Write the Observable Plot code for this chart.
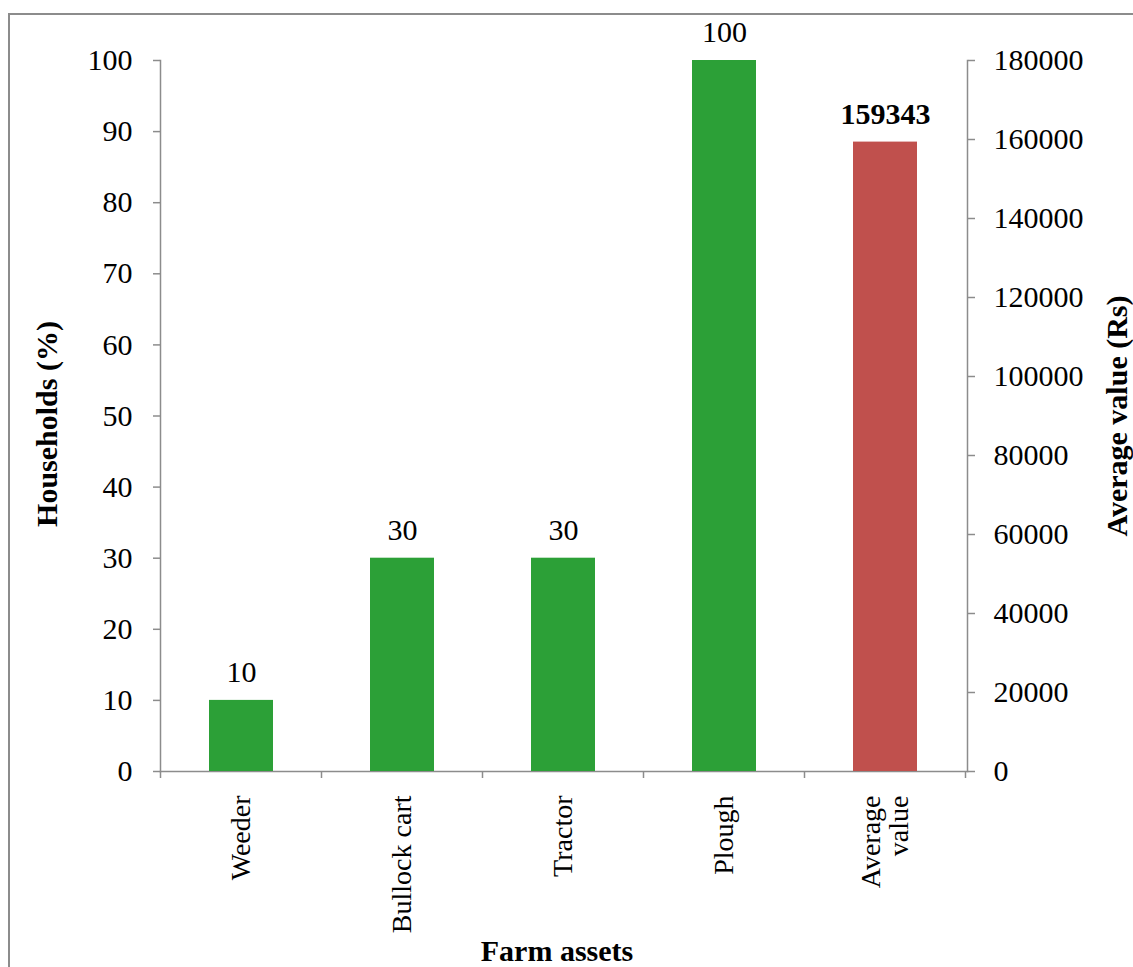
<!DOCTYPE html>
<html><head><meta charset="utf-8">
<script src="https://cdn.jsdelivr.net/npm/d3@7"></script>
<script src="https://cdn.jsdelivr.net/npm/@observablehq/plot@0.6"></script>
<style>
html,body{margin:0;padding:0;background:#fff;overflow:hidden}
#wrap{position:relative;width:1133px;height:967px;overflow:hidden}
#wrap svg{position:absolute;left:0;top:0}
#border{position:absolute;left:8px;top:13px;width:1200px;height:1000px;border-left:2px solid #8c8c8c;border-top:2px solid #8c8c8c;pointer-events:none}
</style></head><body>
<div id="wrap"></div>
<script>
const categories = ["Weeder", "Bullock cart", "Tractor", "Plough", "Average value"];
const tickLabels = ["Weeder", "Bullock cart", "Tractor", "Plough", "Average\nvalue"];
const householdCats = ["Weeder", "Bullock cart", "Tractor", "Plough"];
const households = [10, 30, 30, 100];
const averageValue = 159343;
const leftTicks = [0, 10, 20, 30, 40, 50, 60, 70, 80, 90, 100];
const rightTicks = [0, 20000, 40000, 60000, 80000, 100000, 120000, 140000, 160000, 180000];
const rightMax = 180000;

const green = "#2ca037";
const red = "#c0504d";
const axisColor = "#8c8c8c";
const serif = "'Liberation Serif', 'Times New Roman', serif";

const toLeft = v => v / rightMax * 100;
const greenData = householdCats.map((c, i) => ({cat: c, v: households[i]}));
const redData = [{cat: categories[4], v: toLeft(averageValue), label: averageValue}];
const labelOf = Object.fromEntries(categories.map((c, i) => [c, tickLabels[i]]));

const plot = Plot.plot({
  width: 1133,
  height: 967,
  marginLeft: 160,
  marginRight: 166,
  marginTop: 60,
  marginBottom: 196,
  style: {fontFamily: serif, fontSize: "30px", background: "transparent", color: "#000"},
  x: {type: "band", domain: categories, paddingInner: 0.6, paddingOuter: 0.3, axis: null},
  y: {domain: [0, 100], axis: null},
  marks: [
    Plot.frame({anchor: "left", stroke: axisColor, strokeWidth: 1.5}),
    Plot.frame({anchor: "right", stroke: axisColor, strokeWidth: 1.5}),
    Plot.frame({anchor: "bottom", stroke: axisColor, strokeWidth: 1.5}),
    Plot.axisY(leftTicks, {anchor: "left", tickSize: 7, tickPadding: 21, stroke: axisColor, strokeWidth: 1.5, fontSize: 30, fill: "#000", label: null}),
    Plot.axisY(rightTicks.map(toLeft), {anchor: "right", tickSize: 7, tickPadding: 19, stroke: axisColor, strokeWidth: 1.5, fontSize: 30, fill: "#000", label: null,
      tickFormat: d => String(Math.round(d * rightMax / 100))}),
    Plot.axisX({anchor: "bottom", tickSize: 0, tickPadding: 24, tickRotate: -90, fontSize: 28, fill: "#000", label: null,
      tickFormat: d => labelOf[d]}),
    Plot.barY(greenData, {x: "cat", y: "v", fill: green}),
    Plot.barY(redData, {x: "cat", y: "v", fill: red}),
    Plot.text(greenData, {x: "cat", y: "v", text: d => String(d.v), dy: -28, lineAnchor: "middle", fontSize: 30, fill: "#000"}),
    Plot.text(redData, {x: "cat", y: "v", text: d => String(d.label), dy: -28, lineAnchor: "middle", fontSize: 30, fontWeight: "bold", fill: "#000"}),
    Plot.text(["Households (%)"], {frameAnchor: "left", text: d => d, rotate: -90, textAnchor: "middle", dx: -113, dy: 8, lineAnchor: "middle", fontSize: 30, fontWeight: "bold", fill: "#000"}),
    Plot.text(["Average value (Rs)"], {frameAnchor: "right", text: d => d, rotate: -90, textAnchor: "middle", dx: 150, dy: 0, lineAnchor: "middle", fontSize: 30, fontWeight: "bold", fill: "#000"}),
    Plot.text(["Farm assets"], {frameAnchor: "bottom", text: d => d, textAnchor: "middle", dx: -7, dy: 180, lineAnchor: "middle", fontSize: 30, fontWeight: "bold", fill: "#000"})
  ]
});

// category boundary tick marks on the x axis, positioned via the plot's own scales
const xs = plot.scale("x");
const ys = plot.scale("y");
const y0 = ys.apply(0);
const half = (xs.step - xs.bandwidth) / 2;
const bounds = categories.map(c => xs.apply(c) - half).concat([xs.apply(categories[categories.length - 1]) + xs.bandwidth + half]);
d3.select(plot).append("g")
  .attr("stroke", axisColor).attr("stroke-width", 1.5)
  .selectAll("line").data(bounds).join("line")
  .attr("x1", d => d).attr("x2", d => d)
  .attr("y1", y0).attr("y2", y0 + 7);

const wrap = document.getElementById("wrap");
wrap.appendChild(plot);
const border = document.createElement("div");
border.id = "border";
wrap.appendChild(border);
</script>
</body></html>
